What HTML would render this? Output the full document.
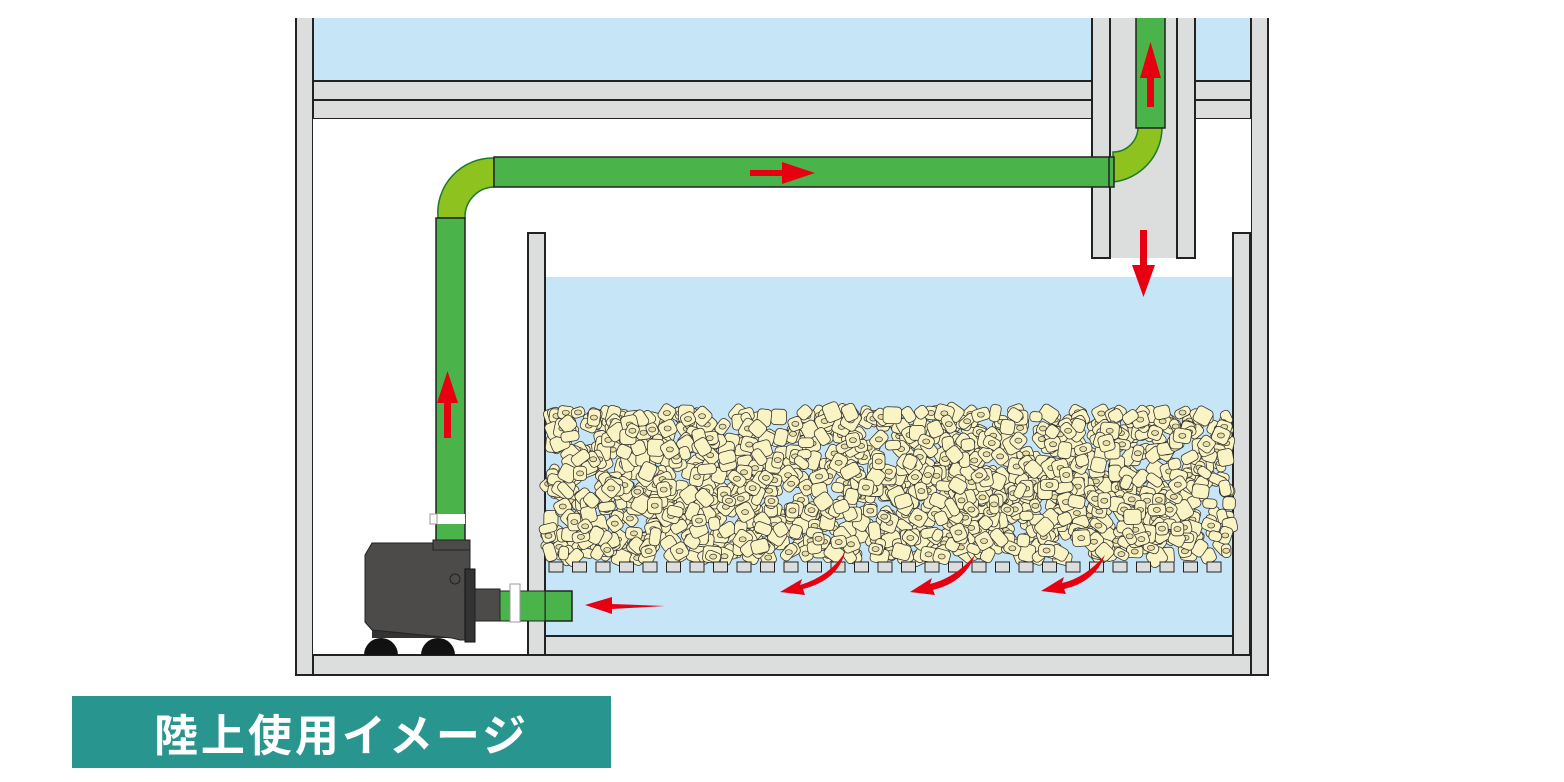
<!DOCTYPE html>
<html><head><meta charset="utf-8"><style>
html,body{margin:0;padding:0;background:#fff;width:1564px;height:782px;overflow:hidden}
.lbl{position:absolute;left:72px;top:696px;width:539px;height:72px;background:#29958f;color:#fff;font:bold 44px "Liberation Sans","Noto Sans CJK JP",sans-serif;display:flex;align-items:center;justify-content:center;letter-spacing:3px}
</style></head><body>
<svg id="s" width="1564" height="782" style="position:absolute;left:0;top:0" xmlns="http://www.w3.org/2000/svg">
<g stroke="#222" stroke-width="2">
<rect x="313" y="18" width="938" height="63" fill="#c6e6f8" stroke="none"/>
<rect x="296" y="81" width="972" height="19" fill="#dcdddd"/>
<rect x="296" y="100" width="972" height="19" fill="#dcdddd"/>
<rect x="296" y="655" width="972" height="20" fill="#dcdddd"/>
<rect x="296" y="10" width="17" height="665" fill="#dcdddd"/>
<rect x="1251" y="10" width="17" height="665" fill="#dcdddd"/>
<rect x="313" y="119" width="938" height="536" fill="#fff" stroke="none"/>
<rect x="313" y="655" width="938" height="20" fill="#dcdddd"/>
<rect x="545" y="277" width="688" height="359" fill="#c6e6f8" stroke="none"/>
<rect x="545" y="636" width="688" height="19" fill="#dcdddd"/>
<rect x="528" y="233" width="17" height="422" fill="#dcdddd"/>
<rect x="1233" y="233" width="17" height="422" fill="#dcdddd"/>
<rect x="1110" y="18" width="67" height="240" fill="#dcdddd" stroke="none"/>
<rect x="1092" y="10" width="18" height="248" fill="#dcdddd"/>
<rect x="1177" y="10" width="18" height="248" fill="#dcdddd"/>
</g>
<g id="media"></g>
<g id="grid" fill="#dcdddd" stroke="#222" stroke-width="1"></g>
<!-- pipes -->
<g stroke="#1a7a2a" stroke-width="1.5">
<path d="M1138,127 A25,25 0 0 1 1113,152 L1113,182 A55,55 0 0 0 1162,127 Z" fill="#8dc21f"/>
<path d="M494,158 A55,55 0 0 0 438,218 L465,218 A30,30 0 0 1 494,187 Z" fill="#8dc21f"/>
</g>
<g stroke="#222" stroke-width="1.5" fill="#4ab34a">
<rect x="1136" y="10" width="29" height="118"/>
<rect x="494" y="157" width="616" height="30"/>
<rect x="1109" y="157" width="5" height="30"/>
<rect x="436" y="218" width="29" height="324"/>
<rect x="545" y="591" width="27" height="30"/>
</g>
<rect x="0" y="0" width="1564" height="18" fill="#fff"/>
<rect x="437" y="514" width="28" height="10" fill="#fff"/>
<rect x="430" y="514" width="7" height="10" fill="#fff" stroke="#999"/>
<!-- pump -->
<path d="M364,655 A17,17 0 0 1 398,655 Z" fill="#111"/>
<path d="M421,655 A17,17 0 0 1 455,655 Z" fill="#111"/>
<rect x="372" y="630" width="80" height="8" fill="#333"/>
<path d="M372,543 L445,543 L450,540 L470,540 L470,640 L460,640 L452,638 L372,630 L365,622 L365,555 Z" fill="#4d4b49" stroke="#222"/>
<rect x="433" y="540" width="37" height="10" fill="#4d4b49" stroke="#222"/>
<rect x="465" y="569" width="10" height="73" fill="#333" stroke="#111"/>
<circle cx="455" cy="579" r="5" fill="none" stroke="#222"/>
<rect x="475" y="589" width="25" height="32" fill="#4d4b49" stroke="#222"/>
<rect x="500" y="591" width="45" height="30" fill="#4ab34a" stroke="#222"/>
<rect x="510" y="584" width="10" height="38" fill="#fff" stroke="#999"/>
<!-- arrows -->
<g fill="#e60012">
<rect x="1147" y="65" width="7" height="42"/><polygon points="1140,78 1161,78 1150.5,42"/>
<rect x="1140" y="230" width="7" height="36"/><polygon points="1132,265 1155,265 1143.5,297"/>
<rect x="750" y="170" width="36" height="6"/><polygon points="782,162 782,184 815,173"/>
<rect x="444" y="400" width="7" height="38"/><polygon points="437,403 458,403 447.5,371"/>
<polygon points="665,606 612,604 612,597 585,605 612,614 612,609"/>
<path d="M845,552 Q830,576 800,585 L802,579 L780,592 L805,595 L803,589 Q838,580 845,552Z"/>
<path d="M975,555 Q955,578 930,584 L932,578 L910,592 L935,595 L933,590 Q965,582 975,555Z"/>
<path d="M1105,555 Q1085,578 1062,583 L1064,577 L1041,591 L1066,594 L1064,589 Q1095,582 1105,555Z"/>
</g>
</svg>
<div class="lbl">陸上使用イメージ</div>
<script>
var ns="http://www.w3.org/2000/svg",m=document.getElementById("media"),g=document.getElementById("grid");
var seed=7;function r(){seed=(seed*16807)%2147483647;return seed/2147483647;}
for(var i=0;i<1400;i++){var x=548+r()*682,y=412+r()*146;var e=document.createElementNS(ns,"rect");
var w=9+r()*8,h=12+r()*7;e.setAttribute("x",x-w/2);e.setAttribute("y",y-h/2);e.setAttribute("width",w);e.setAttribute("height",h);e.setAttribute("rx",4);
e.setAttribute("fill","#faf3c4");e.setAttribute("stroke","#333");e.setAttribute("stroke-width","0.8");e.setAttribute("transform","rotate("+(r()*180)+" "+x+" "+y+")");m.appendChild(e);
if(r()<0.5){var c=document.createElementNS(ns,"ellipse");c.setAttribute("cx",x);c.setAttribute("cy",y);c.setAttribute("rx",3.5);c.setAttribute("ry",2.5);c.setAttribute("fill","#e9dfa6");c.setAttribute("stroke","#333");c.setAttribute("stroke-width","0.7");m.appendChild(c);}}
for(var x=549;x<1230;x+=23.5){var q=document.createElementNS(ns,"rect");q.setAttribute("x",x);q.setAttribute("y",562);q.setAttribute("width",14);q.setAttribute("height",10);g.appendChild(q);}
</script>
</body></html>
